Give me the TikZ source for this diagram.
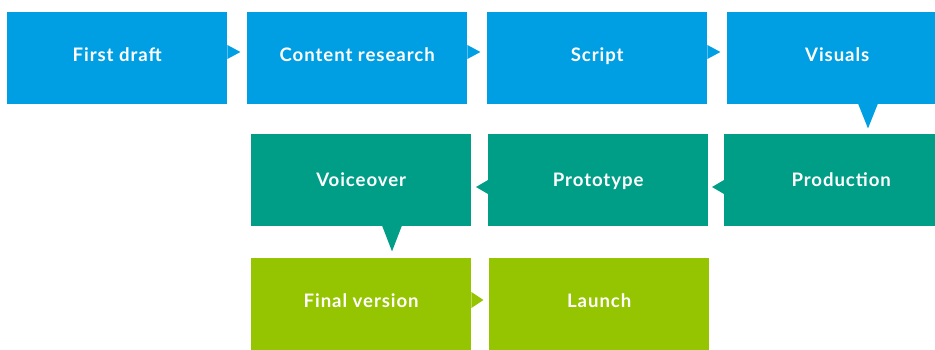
\documentclass[tikz,border=0pt]{standalone}
\usepackage{fontspec}
\setmainfont{Lato}
\newfontfamily\boxfont[LetterSpace=5]{Lato Bold}
\usetikzlibrary{calc}
\definecolor{cblue}{HTML}{009FE3}
\definecolor{cteal}{HTML}{009E87}
\definecolor{cgreen}{HTML}{95C400}
\begin{document}
\begin{tikzpicture}[x=1pt,y=-1pt,
  box/.style={rectangle, inner sep=0pt, anchor=north west, minimum width=220pt, minimum height=92pt,
    text=white, font=\boxfont\fontsize{18.6}{20}\selectfont, text height=13.4pt},
  up/.style={text depth=7pt},
  mid/.style={text depth=1pt}]
\useasboundingbox (0,0) rectangle (935,349);
\clip (0,0) rectangle (935,349);
% row 1
\node[box,up,fill=cblue] (n1) at (7,12) {First draft};
\node[box,up,fill=cblue] (n2) at (247,12) {Content research};
\node[box,up,fill=cblue] (n3) at (487,12) {Script};
\node[box,up,fill=cblue] (n4) at (727,12) {Visuals};
% row 2
\node[box,mid,fill=cteal,minimum width=234pt] (n5) at (724,134) {Production};
\node[box,mid,fill=cteal] (n6) at (488,134) {Prototype};
\node[box,mid,fill=cteal] (n7) at (251,134) {Voiceover};
% row 3
\node[box,up,fill=cgreen] (n8) at (251,258) {Final version};
\node[box,up,fill=cgreen] (n9) at (489,258) {Launch};
% pointers
\foreach \a/\c in {n1/cblue,n2/cblue,n3/cblue}{
  \fill[\c] ($(\a.north east)+(0,33)$) -- ($(\a.north east)+(13,40)$) -- ($(\a.north east)+(0,47)$) -- cycle;}
\fill[cgreen] ($(n8.north east)+(0,34)$) -- ($(n8.north east)+(12,42)$) -- ($(n8.north east)+(0,50)$) -- cycle;
\foreach \a/\c in {n5/cteal,n6/cteal}{
  \fill[\c] ($(\a.north west)+(0,46)$) -- ($(\a.north west)+(-12,53)$) -- ($(\a.north west)+(0,60)$) -- cycle;}
\fill[cblue] ($(n4.south west)+(131,-1)$) -- ($(n4.south west)+(141,24)$) -- ($(n4.south west)+(151,-1)$) -- cycle;
\fill[cteal] ($(n7.south west)+(131,-1)$) -- ($(n7.south west)+(141,25)$) -- ($(n7.south west)+(151,-1)$) -- cycle;
\end{tikzpicture}
\end{document}
